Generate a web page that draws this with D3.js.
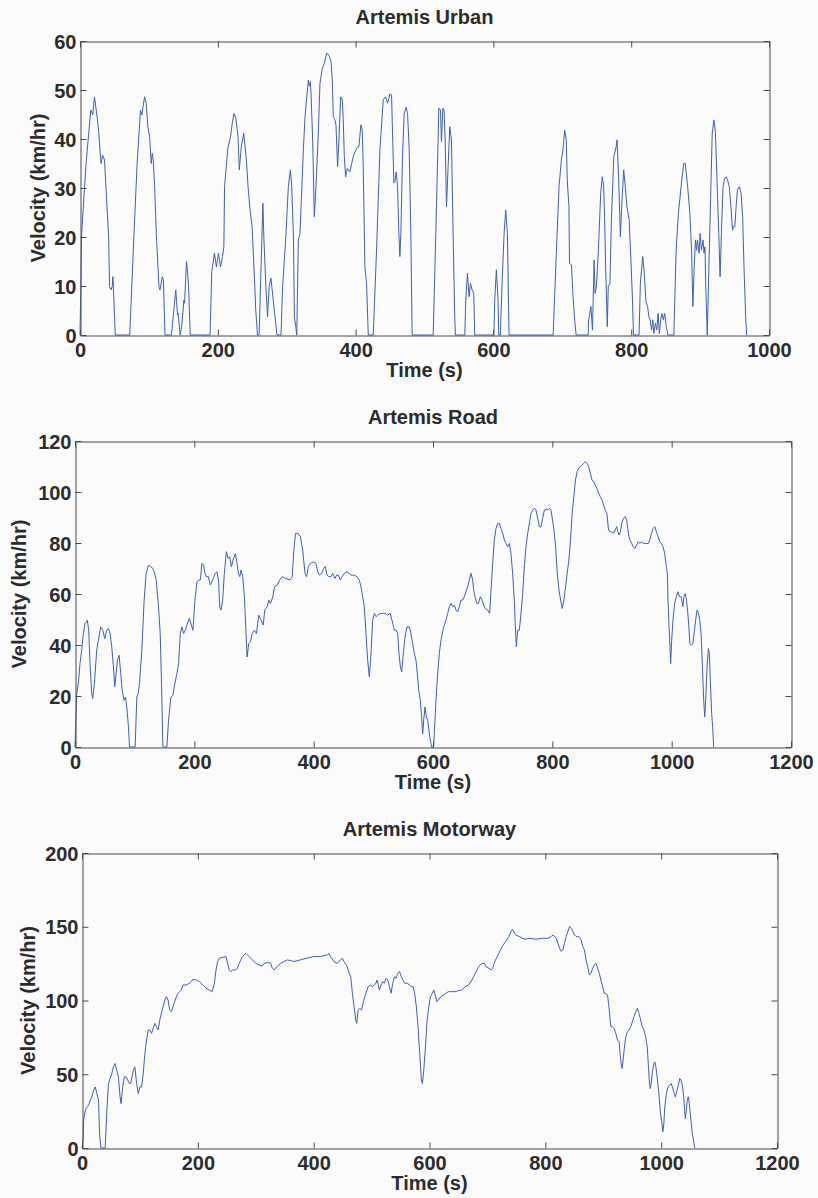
<!DOCTYPE html>
<html><head><meta charset="utf-8">
<script src="https://cdn.jsdelivr.net/npm/d3@7"></script>
<style>
body{margin:0;background:#fbfbfc}
svg{display:block}
text{font-family:"Liberation Sans",Arial,sans-serif;font-weight:bold;fill:#2b2b2b}
</style>
</head><body>
<svg id="c" width="818" height="1198"></svg>
<script>
// ---------------- DATA (time s, velocity km/h) ----------------
const urbanData = [
[0,0],[2.4,20.7],[8.8,35],[15.6,45.9],[18.5,44.9],[21,48.6],[25.4,43.9],[27.3,41.2],[29.3,37.1],[30.7,35],[32.7,36.7],[35.6,35.7],[41.5,20.1],[42.9,9.9],[44.9,9.2],[46.8,9.9],[47.8,11.9],[51.2,0],
[72.2,0],[78,19.4],[82.9,35],[87.8,45.9],[89.8,44.9],[93.7,48.6],[96.1,47.3],[98.5,42.5],[101,40.5],[103.4,35],[104.9,37.1],[106.3,35.7],[108.3,30.3],[110.7,20.7],[114.6,9.9],[116.1,9.2],[119.5,11.9],[121,11.2],[123.4,0],
[132.7,0],[139,9.2],[141.5,4.1],[142.4,4.4],[145.4,0],[147.8,2],[150.7,7.1],[151.7,6.5],[154.6,15],[156.1,12.9],[157.6,9.9],[160,0],
[188.8,0],[191.2,12.9],[195.1,16.7],[198,13.9],[201,16.7],[203.9,13.9],[206.8,16],[208.8,18],[209.8,30.3],[214.6,38.1],[218.5,40.5],[221,43.2],[223.4,45.2],[226.3,44.2],[229.3,40.5],[231.2,33.7],[234.1,38.4],[237.6,41.2],[241.5,35.7],[243.9,30.3],[246.8,25.5],[249.8,22.1],[253.7,9.9],[255.1,5.1],[257.6,0],
[260,0],[265.4,26.9],[266.8,20.1],[269.8,9.9],[272.2,3.7],[274.6,9.9],[277.1,11.6],[280.5,7.1],[282,5.1],[285.9,0],
[291.7,0],[294.1,9.9],[298.5,19.4],[302.4,30.3],[305.4,33.7],[307.3,30.3],[309.8,20.1],[311.2,3.7],[313.2,1.7],[314.6,0],
[316.9,19.4],[319.3,20.7],[324.2,37.8],[326.6,44.6],[331.4,52],[332.9,50.8],[334.3,51.7],[335.3,49.3],[337.7,39.8],[340.1,24.1],[342.5,30.3],[345.9,41.2],[348.3,51.4],[351.7,54.4],[354.6,55.4],[358,57.5],[361.4,57.1],[364.3,55.8],[366.2,52],[367.6,44.6],[370,43.9],[371.5,42.9],[373.9,34.4],[375.8,39.8],[378.3,48.6],[380.7,48],[382.1,43.9],[383.6,36.4],[385.5,32.3],[387.9,34],[391.8,33.3],[394.2,35],[398.1,37.1],[402.9,38.4],[404.8,38.4],[407.7,42.9],[409.7,41.8],[411.1,34.4],[413.5,13.9],[415.9,10.5],[418.4,0],
[425.6,0],[430.4,17.3],[435.3,37.8],[440.1,48],[443.5,48.6],[446.4,47.3],[449.8,49.2],[452.2,49],[453.6,41.2],[455.6,31],[457,31.3],[459,33.3],[460.9,30.3],[462.8,20.7],[464.3,16],[465.7,20.7],[468.1,36.4],[470.5,45.2],[473.4,46.5],[475.4,45.2],[477.8,37.8],[480.2,20.7],[482.1,0],
[512.6,0],[516.4,20.7],[518.8,34.4],[520.8,46.3],[523.2,45.9],[524.6,39.5],[526.6,46.3],[528.5,45.9],[530,39.8],[531.9,26.2],[534.3,34.4],[536.7,42.5],[539.1,39.8],[541.5,20.7],[543.9,3.7],[544.9,0],
[558.5,0],[559.9,7.1],[562.3,12.6],[564.7,7.8],[566.7,10.5],[569.1,9.2],[571.5,8.5],[572.9,0],
[600,0],[601,1.4],[601.9,7.1],[604.3,13.3],[606.8,7.1],[607.7,0],
[610.1,0],[612.6,10.5],[615.5,20.7],[617.9,25.5],[620.3,20.7],[622.7,0],
[686.7,0],[691.5,17.3],[695.3,30.3],[698.6,35.7],[701,37.8],[703.4,41.8],[705.8,39.8],[707.2,31.6],[709.6,26.2],[710.5,14.6],[713.4,14.3],[715.3,8.5],[717.6,3.7],[720,0],
[737.6,0],[738.1,3.1],[739.1,3.7],[741.5,5.8],[743.8,1],[744.8,7.1],[746.2,15.3],[747.6,8.5],[749.5,9.9],[752.4,17.3],[755.7,28.9],[758.1,32.3],[760,30.3],[761.4,24.1],[762.9,13.9],[765.3,1.7],[766.7,9.9],[769.1,10.5],[771.4,24.1],[774.8,36.4],[778.1,38.4],[779.5,39.8],[781.9,31.6],[784.3,20.1],[786.7,27.6],[789.1,33.7],[791.4,30.3],[793.8,26.2],[797.1,23.5],[800,13.9],[801.9,7.1],[803.3,0],
[811.4,0],[813.3,10.5],[816.7,16],[819,12.6],[821.4,6.8],[823.8,5.8],[825.7,3.7],[827.6,3.1],[829.5,1],[831.4,3.1],[832.8,0.3],[835.2,2.4],[837.1,1],[839,4.4],[840.9,0.3],[842.8,3.1],[844.7,4.4],[846.6,3.1],[848.6,4.4],[850.9,1.7],[853.3,0],
[861.9,0],[865.2,17.3],[868.5,24.8],[872.4,30.3],[876.2,35],[878.5,35],[881.9,30.3],[885.2,24.8],[887.6,17.3],[889.5,5.8],[891.4,13.9],[893.3,19.4],[894.8,17.3],[896.2,19.4],[898.5,16.7],[900,20.7],[901.9,17.3],[904.2,19.4],[905.7,16.7],[907.1,18],[908.1,10.5],[910.4,0],
[912.8,13.9],[915.2,27.6],[917.6,41.2],[920,43.9],[922.3,41.2],[924.7,31],[927.1,20.7],[929,11.9],[930.9,20.7],[933.3,30.3],[935.7,32],[938,32.3],[939.9,31.6],[942.3,30.3],[944.7,26.2],[947.1,21.4],[948.5,22.1],[950.4,22.1],[952.3,26.2],[954.2,29.6],[957.1,30.3],[959.5,28.9],[961.8,24.1],[963.7,13.9],[966.1,3.7],[967.6,0]
];

const roadData = [
[0,0],[1.7,13.1],[2.8,20.9],[5.6,24.9],[8.4,32.7],[11.2,38],[14,44.5],[16.8,48.4],[20.7,49.7],[23,45.8],[25.2,32.7],[28,20.9],[29.7,19],[32.5,24.9],[36.4,38],[39.2,41.9],[43.1,47.1],[46.5,45.8],[49.8,42.5],[53.2,45.8],[56,46.5],[58.8,44.5],[61.6,39.3],[64.4,31.4],[66.6,23.6],[68.9,28.8],[71.1,34],[73.9,36],[76.7,28.8],[79,22.3],[82.3,18.3],[84.6,19.6],[86.8,15.7],[89.6,7.9],[91.3,0],
[100.8,0],[103.6,19.6],[105.8,20.9],[108.1,24.9],[112,38],[115.9,57.6],[119.3,68.1],[123.2,71.3],[127.1,70.7],[130.5,70],[132.7,68.7],[136.1,65.5],[140,55],[142.8,44.5],[145,24.9],[147.3,0],
[154,0],[156.8,10.5],[160.7,19.6],[164.1,20.3],[166.3,23.6],[170.8,28.8],[173.6,32.7],[176.4,44.5],[179.2,47.1],[182,44.5],[184.8,45.8],[187.6,47.8],[191.5,50.4],[194.3,48.4],[197.7,45.8],[201,57.6],[204.4,64.8],[207.8,65.5],[210,65.5],[212.8,72],[215.6,71.3],[217.8,68.1],[220.1,66.8],[223.4,66.8],[226.8,63.5],[230.7,65.5],[235.2,68.1],[238,68.7],[240.8,64.8],[242.5,55],[244.7,53.7],[247.5,57.6],[250.3,68.1],[253.7,76.6],[256.5,74],[259.3,74.6],[262.1,70.7],[264.9,73.3],[268.8,75.9],[271.6,72],[273.8,68.1],[276.1,66.8],[278.3,69.4],[281.1,66.8],[283.9,58.9],[286.2,47.1],[288.4,35.3],[291.2,40.6],[294,41.2],[296.8,44.5],[300.7,45.8],[304.1,44.5],[308,51.7],[311.9,49.7],[315.3,47.8],[318.1,53.7],[322,55],[324.8,57.6],[327.6,56.3],[331.5,58.9],[334.3,62.8],[338.8,63.5],[343.3,65.5],[347.2,66.8],[352.8,66.1],[360.1,65.5],[364,66.8],[366.8,77.2],[369.6,83.8],[373.5,83.8],[377.7,82.5],
[381.6,77.2],[385.5,68.1],[388.3,66.8],[391.1,70.7],[394.4,72],[399.4,72.6],[403.9,72],[406.7,68.7],[409.5,67.4],[413.4,68.1],[416.8,70],[419.6,70.7],[422.3,67.4],[425.1,66.8],[429.1,66.8],[431.8,68.1],[435.8,66.1],[438.6,67.4],[441.3,67.4],[444.7,65.5],[447.5,66.8],[451.4,68.1],[455.9,68.7],[459.8,68.1],[462.6,67.4],[468.2,67.4],[472.6,66.8],[476.5,65.5],[479.3,62.8],[482.1,58.9],[484.9,55],[487.7,44.5],[490.5,34],[493.3,27.5],[496.1,36.7],[498.9,49.7],[501.7,52.4],[504.5,51.1],[507.3,51.7],[511.7,52.4],[515.7,52.4],[519.6,52.4],[524,51.7],[527.9,52.4],[531.3,49.7],[535.2,45.8],[538.6,45.8],[540.8,44.5],[543,36.7],[545.3,31.4],[547.5,29.5],[550.3,36.7],[553.1,43.2],[556.4,47.1],[560.3,47.1],[563.1,44.5],[565.9,40.6],[568.7,36.7],[571.5,34],[574.3,27.5],[576,22.3],[578.8,18.3],[581,11.8],[582.7,5.2],[584.4,10.5],[586.6,15.7],[588.8,11.8],[591.1,10.5],[593.9,5.2],[595.5,2.6],[597.8,0],
[601.1,0],[602.2,5.2],[605,18.3],[607.8,28.8],[610.6,36.7],[613.4,41.9],[617.9,47.1],[621.8,49.7],[624.6,52.4],[627.4,55],[630.2,56.3],[633,55],[635.8,55.6],[638.6,53.7],[641.4,53],[644.1,55],[646.9,57.6],[649.7,57.6],[652.5,58.9],[655.3,60.9],[658.1,62.8],[660.9,65.5],[663.7,68.1],[666.5,65.5],[668.2,61.5],[670.4,58.9],[673.2,56.3],[676,56.3],[679.4,58.9],[682.1,57.6],[684.9,55.6],[687.7,54.3],[691.6,53.7],[695,52.4],[697.2,61.5],[700,72],[702.8,81.2],[705.6,85.7],[708.4,87.7],[711.2,87.7],[714,85.7],[716.8,83.8],[719.6,81.2],[722.4,79.8],[725.2,78.5],[728,79.8],[730.7,75.9],[733.5,68.1],[736.3,57.6],[738,47.1],[739.7,39.3],[741.9,45.8],[744.7,45.8],[747.5,52.4],[750.3,60.2],[753.1,70.7],[755.9,78.5],[758.7,83.8],[761.5,87.7],[764.3,91.6],[767.1,92.9],[769.9,93.6],[772.7,92.9],[775.4,89.7],[778.2,86.4],[781,86.4],[783.8,89.7],[786.6,92.9],[789.4,93.2],[792.2,92.9],[795,93.6],[797.8,92.9],
[802.8,85.1],[805.5,78.5],[808.3,68.1],[811.1,61.5],[813.9,57.6],[816.6,54.3],[819.4,57.6],[822.2,62.8],[824.9,68.1],[827.7,73.3],[830.5,81.2],[833.2,91.6],[836,98.2],[838.8,104.7],[841.6,108],[844.3,109.3],[847.1,110],[849.9,110.6],[852.6,111.3],[855.4,111.9],[858.2,111.3],[860.9,110],[863.7,107.3],[866.5,104.7],[869.3,104.1],[872,102.8],[874.8,101.4],[877.6,99.5],[880.3,98.2],[883.1,96.9],[885.9,94.9],[888.6,92.9],[891.4,91.6],[894.2,85.1],[896.9,84.4],[899.7,84.4],[902.5,83.8],[905.3,85.1],[908,86.4],[909.7,84.4],[911.9,83.1],[914.1,84.4],[916.3,87.7],[919.1,89.7],[921.9,90.3],[924.7,89],[926.3,85.7],[928.5,82.5],[930.2,81.2],[933,79.8],[935.7,78.5],[938.5,77.9],[941.3,79.2],[944,80.5],[946.8,79.8],[949.6,80.5],[952.4,79.8],[955.1,79.8],[957.9,79.8],[960.7,79.8],[963.4,81.2],[966.2,83.8],[969,85.7],[971.7,86.4],[974.5,84.4],[977.3,82.5],[980.1,80.5],[982.8,79.8],[985.6,78.5],[988.4,75.9],[991.1,70.7],[992.8,68.1],[993.9,57.6],[995.6,47.1],[996.7,41.9],[998.3,32.7],[1000,41.9],[1002.2,49.7],[1005,56.3],[1007.8,58.9],[1010.5,60.9],[1013.3,58.9],[1016.1,58.9],[1018.8,55],[1020.5,58.9],[1022.7,60.2],[1024.9,57.6],[1027.1,52.4],[1028.8,47.1],[1030.5,40.6],[1032.7,39.9],[1035.5,40.6],[1038.2,45.8],[1041,51.1],[1042.7,53.7],[1044.9,52.4],[1047.1,49.7],[1049.3,44.5],[1051.5,31.4],[1053.7,18.3],[1055.4,11.8],[1057,18.3],[1059.3,31.4],[1061.5,38.6],[1063.2,36.7],[1064.8,26.2],[1067,13.1],[1068.7,7.9],[1070.4,0]
];

const motorwayData = [
[0,0],[1.7,5.2],[2.9,18.8],[5.7,25.6],[8.6,27.9],[11.4,29],[14.3,32.4],[17.1,34.7],[20,39.2],[22.9,41.4],[25.7,36.9],[28.6,32.4],[30.3,9.7],[32.6,0],
[40,0],[42.9,25.6],[45.7,43.7],[48.6,47.1],[51.4,50.5],[54.3,55],[57.1,57.3],[60,52.8],[62.9,48.2],[65.7,34.7],[67.4,30.1],[70.3,41.4],[73.1,48.2],[76,48.2],[78.9,46],[81.7,43.7],[84,43.7],[86.3,48.2],[88.6,52.8],[91.4,55],[94.3,43.7],[97.1,36.9],[100,41.4],[102.9,41.4],[105.7,50.5],[108.6,64.1],[111.4,73.2],[114.3,80],[117.1,80],[120,77.7],[122.9,81.1],[125.7,84.5],[128.6,82.2],[131.4,80],[134.3,86.7],[137.1,91.3],[140,95.8],[142.9,100.3],[145.7,102.6],[148.6,100.3],[151.4,93.5],[154.3,92.4],[157.1,95.8],[160,99.2],[162.9,102.6],[165.7,104.9],[168.6,106],[171.4,107.1],[174.3,110.5],[180,110.5],[185.7,111.7],[188.6,112.8],[191.4,114.4],[197.1,113.9],[202.9,112.8],[208.6,110.5],[214.3,108.3],[220,107.1],[224.6,106],[228.6,111.7],[231.4,120.7],[234.3,126.4],[237.1,128.7],[242.9,129.3],[248.6,129.8],[251.4,125.2],[254.3,120.7],[257.1,119.6],[260,120.7],[264.6,120.7],[268.6,121.9],[271.4,125.2],[277.1,129.8],[282.9,132],[285.7,130.9],[288.6,129.8],[294.3,127.5],[300,125.2],[305.7,124.1],[311.4,123.4],[314.3,125.2],[320,125.7],[325.7,125.2],[328.6,121.9],[331.4,120.7],[334.3,121.9],[337.1,123],[342.9,125.2],[348.6,126.4],[354.3,127.5],[360,127.1],[365.7,126.4],[376.7,127.5],[388.4,128.7],[400,129.8],[411.6,129.8],[423.3,130.9],[426.2,132],[429.1,129.8],[434.9,126.4],[440.7,125.2],[446.5,127.5],[449.4,128.7],[452.3,126.4],[458.1,123],[461,118.5],[464,116.2],[466.9,104.9],[469.8,95.8],[472.7,86.7],[474.4,84.5],[476.7,93.5],[479.7,94.7],[482.6,93.5],[486,99.2],[490.1,104.9],[494.2,109.4],[497.7,110.5],[501.7,109.4],[507.6,111.7],[509.3,113.9],[511.6,110.5],[513.4,107.1],[516.3,110.5],[519.2,112.8],[522.1,111.7],[525,115.1],[527.9,113.9],[530.8,109.4],[533.7,104.9],[536.6,111.7],[539.5,116.2],[542.4,115.1],[545.3,118.5],[548.3,119.6],[551.2,116.2],[554.1,113.9],[557,111.7],[561.6,111.7],[565.7,110.5],[568.6,109.4],[571.5,109.4],[574.4,104.9],[577.3,95.8],[580.2,82.2],[583.1,64.1],[586,46],[587.8,43.7],[590.1,52.8],[593,68.6],[595.9,86.7],[598.8,95.8],[601.7,102.6],[604.7,104.9],[607.6,107.1],[610.5,102.6],[612.8,99.2],[615.1,100.3],[619.8,102.6],[623.8,103.7],[628.5,104.9],[632.6,106],[638.4,106],[644.2,106],[650,106.7],[655.8,107.1],[661.6,109.4],[667.4,110.5],[673.3,113.9],[679.1,118.5],[684.9,123],[690.7,125.2],[694.8,125.2],[697.7,123],[702.3,121.9],[707,120.7],[709.3,121.9],[711.6,125.2],[714,127.5],[716.9,129.8],[719.8,132],[725.6,136.6],[731.4,140],[737.2,143.4],[741.9,147.9],[744.2,147.9],[746.5,145.6],[748.8,144.5],[754.7,143.4],[760.5,142.2],[766.3,141.6],[772.1,142.2],[783.7,141.6],[795.3,142.2],[804.6,142.2],[810.3,143.4],[813.1,144.5],[816,143.4],[818.9,142.2],[821.7,138.8],[824.6,135.4],[827.4,133.2],[830.3,134.3],[833.1,138.8],[836,143.4],[838.9,146.8],[841.7,150.2],[844.6,149],[847.4,146.8],[850.3,144.5],[853.1,143.4],[856,143.4],[858.9,142.9],[861.7,141.1],[864.6,136.6],[867.4,134.3],[870.3,127.5],[873.1,123],[876,117.3],[878.9,118.5],[881.7,121.9],[884.6,124.1],[887.4,125.2],[890.3,121.9],[893.1,118.5],[896,113.9],[898.9,109.4],[901.7,104.9],[904.6,104.9],[907.4,103.7],[909.1,98.1],[910.9,91.3],[913.1,82.2],[916,82.2],[918.9,81.1],[921.7,77.7],[924.6,73.2],[927.4,72],[929.1,64.1],[930.9,57.3],[932.6,53.9],[934.3,59.6],[936,66.4],[938.9,75.4],[941.7,78.8],[944.6,80],[947.4,82.2],[950.3,85.6],[953.1,89],[956,92.4],[958.9,94.7],[961.7,91.3],[964.6,86.7],[967.4,82.2],[970.3,80],[973.1,75.4],[976,68.6],[977.7,57.3],[979.4,46],[981.1,40.3],[982.9,43.7],[984.6,50.5],[987.4,57.3],[989.1,58.4],[990.9,55],[993.1,48.2],[996,36.9],[998.9,23.3],[1001.1,17.7],[1002.9,10.9],[1004.6,16.5],[1006.3,27.9],[1009.1,36.9],[1012,41.4],[1014.9,42.6],[1017.1,43.7],[1019.4,41.4],[1021.7,38.1],[1024.6,34.7],[1027.4,39.2],[1030.3,43.7],[1032,47.1],[1034.3,46],[1036.6,42.6],[1038.9,34.7],[1040.6,25.6],[1041.7,19.9],[1043.4,25.6],[1045.1,32.4],[1046.9,34.7],[1048.6,30.1],[1050.3,23.3],[1052,16.5],[1053.7,9.7],[1056,5.2],[1057.7,0]
];

const titles = ["Artemis Urban", "Artemis Road", "Artemis Motorway"];
const xTicksUrban = [0, 200, 400, 600, 800, 1000];
const xTicksLong = [0, 200, 400, 600, 800, 1000, 1200];
const yTicksUrban = [0, 10, 20, 30, 40, 50, 60];
const yTicksRoad = [0, 20, 40, 60, 80, 100, 120];
const yTicksMotorway = [0, 50, 100, 150, 200];
const xLabel = "Time (s)";
const yLabel = "Velocity (km/hr)";

// ---------------- LAYOUT ----------------
const panels = [
  {title: titles[0], data: urbanData, xTicks: xTicksUrban, yTicks: yTicksUrban,
   box: {l: 80, r: 769, t: 41, b: 335}, ylabX: 38},
  {title: titles[1], data: roadData, xTicks: xTicksLong, yTicks: yTicksRoad,
   box: {l: 75, r: 791, t: 441, b: 747}, ylabX: 19},
  {title: titles[2], data: motorwayData, xTicks: xTicksLong, yTicks: yTicksMotorway,
   box: {l: 82, r: 777, t: 853, b: 1148}, ylabX: 28}
];

const svg = d3.select("#c");
const lineColor = "#3f5fae";
const axisColor = "#4a4a4a";
const textColor = "#2b2b2b";
const fs = 20;
const tickLen = 6;
const fmt = d3.format("d");

function styleText(sel) {
  sel.attr("font-size", fs)
     .attr("font-family", "Liberation Sans, Arial, sans-serif")
     .attr("font-weight", "bold")
     .style("font-weight", "bold")
     .attr("fill", textColor);
}

panels.forEach((p, i) => {
  const {l, r, t, b} = p.box;
  const x = d3.scaleLinear().domain([p.xTicks[0], p.xTicks[p.xTicks.length - 1]]).range([l, r]);
  const y = d3.scaleLinear().domain([p.yTicks[0], p.yTicks[p.yTicks.length - 1]]).range([b, t]);
  const g = svg.append("g");

  const clipId = "clip" + i;
  svg.append("clipPath").attr("id", clipId)
    .append("rect").attr("x", l - 1).attr("y", t).attr("width", r - l + 2).attr("height", b - t + 1);

  // data line
  const line = d3.line().x(d => x(d[0])).y(d => y(d[1]));
  g.append("path").datum(p.data)
    .attr("clip-path", `url(#${clipId})`)
    .attr("d", line)
    .attr("fill", "none")
    .attr("stroke", lineColor)
    .attr("stroke-width", 1)
    .attr("stroke-linejoin", "round");

  // axes with inward ticks on all four sides
  const xb = g.append("g").attr("transform", `translate(0,${b + 0.5})`)
    .call(d3.axisBottom(x).tickValues(p.xTicks).tickSizeInner(-tickLen).tickSizeOuter(0).tickFormat(fmt));
  const xt = g.append("g").attr("transform", `translate(0,${t + 0.5})`)
    .call(d3.axisTop(x).tickValues(p.xTicks).tickSizeInner(-tickLen).tickSizeOuter(0).tickFormat(""));
  const yl = g.append("g").attr("transform", `translate(${l + 0.5},0)`)
    .call(d3.axisLeft(y).tickValues(p.yTicks).tickSizeInner(-tickLen).tickSizeOuter(0).tickPadding(4).tickFormat(fmt));
  const yr = g.append("g").attr("transform", `translate(${r + 0.5},0)`)
    .call(d3.axisRight(y).tickValues(p.yTicks).tickSizeInner(-tickLen).tickSizeOuter(0).tickFormat(""));

  [xb, xt, yl, yr].forEach(a => {
    a.attr("font-size", fs).attr("font-family", "Liberation Sans, Arial, sans-serif");
    a.select(".domain").attr("stroke", axisColor).attr("stroke-width", 1);
    a.selectAll(".tick line").attr("stroke", axisColor).attr("stroke-width", 1);
    styleText(a.selectAll("text"));
  });
  xb.selectAll(".tick text").attr("y", 7).attr("dy", "0.72em");
  yl.selectAll(".tick text").attr("x", -4).attr("dy", "0.35em");

  // title
  styleText(g.append("text").attr("x", (l + r) / 2).attr("y", t - 17)
    .attr("text-anchor", "middle").text(p.title));
  // x label
  styleText(g.append("text").attr("x", (l + r) / 2).attr("y", b + 42)
    .attr("text-anchor", "middle").text(xLabel));
  // y label
  styleText(g.append("text").attr("transform", `translate(${p.ylabX},${(t + b) / 2}) rotate(-90)`)
    .attr("text-anchor", "middle").attr("dy", "0.35em").text(yLabel));
});
</script>
</body></html>
